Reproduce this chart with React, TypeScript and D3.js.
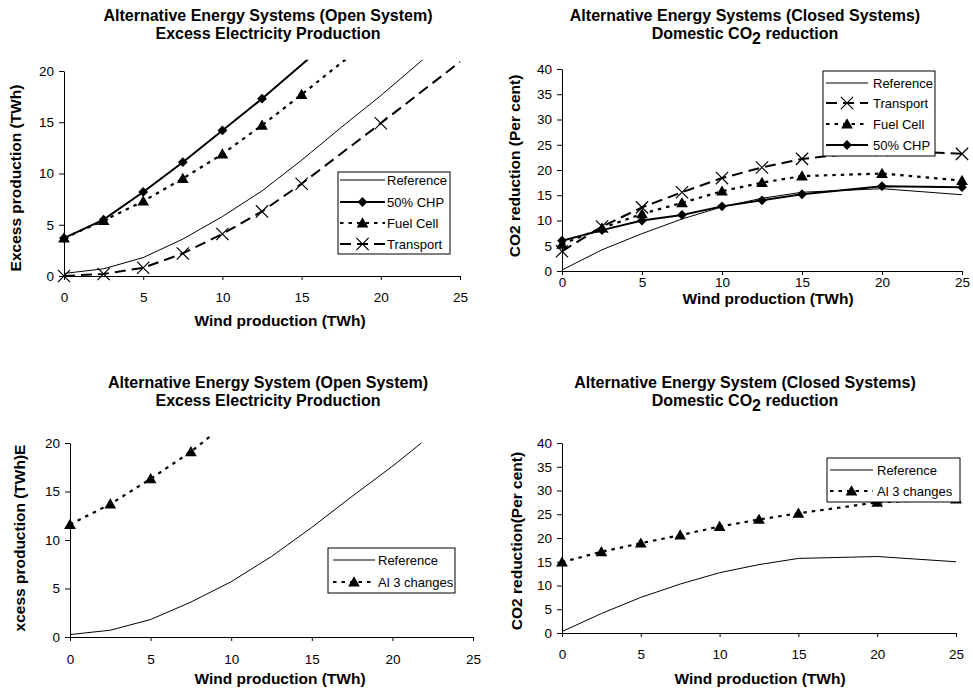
import React, { useRef, useEffect } from "react";
import * as d3 from "d3";

// ---- data ----
const openRefX = [0, 2.5, 5, 7.5, 10, 12.5, 15, 17.5, 20, 22.5, 25];
const openRefY = [0.25, 0.7, 1.8, 3.6, 5.8, 8.3, 11.3, 14.5, 17.6, 20.9, 24.2];
const openChpX = [0, 2.5, 5, 7.5, 10, 12.5, 15, 17.5];
const openChpY = [3.7, 5.5, 8.2, 11.1, 14.2, 17.3, 20.6, 24.0];
const openFuelX = [0, 2.5, 5, 7.5, 10, 12.5, 15, 17.5, 20];
const openFuelY = [3.7, 5.4, 7.3, 9.5, 11.9, 14.7, 17.7, 20.8, 23.8];
const openTransX = [0, 2.5, 5, 7.5, 10, 12.5, 15, 20, 25];
const openTransY = [0, 0.2, 0.8, 2.2, 4.1, 6.3, 9.0, 14.9, 20.9];

const closedX = [0, 2.5, 5, 7.5, 10, 12.5, 15, 20, 25];
const closedRefY = [0.2, 4.2, 7.4, 10.3, 12.7, 14.4, 15.6, 16.3, 15.1];
const closedTransY = [3.9, 8.8, 12.6, 15.6, 18.4, 20.5, 22.2, 23.9, 23.2];
const closedFuelY = [5.3, 8.5, 11.3, 13.5, 15.8, 17.5, 18.8, 19.3, 17.9];
const closedChpY = [6.0, 8.1, 10.0, 11.1, 12.8, 14.0, 15.2, 16.8, 16.6];

const al3RefX = [0, 2.5, 5, 7.5, 10, 12.5, 15, 17.5, 20, 21.8];
const al3RefY = [0.25, 0.7, 1.8, 3.6, 5.7, 8.3, 11.3, 14.5, 17.6, 20.0];
const al3OpenX = [0, 2.5, 5, 7.5, 10];
const al3OpenY = [11.6, 13.7, 16.3, 19.1, 22.4];
const al3ClosedRefY = [0.3, 4.1, 7.5, 10.3, 12.7, 14.4, 15.7, 16.1, 15.0];
const al3ClosedY = [14.9, 17.1, 18.9, 20.6, 22.4, 23.9, 25.2, 27.5, 28.2];

const xTicks = [0, 5, 10, 15, 20, 25];

const FONT = "'Liberation Sans', Arial, sans-serif";

type Style = { width: number; dash: string | null; marker: string | null };
const STYLES: Record<string, Style> = {
  "Reference": { width: 1, dash: null, marker: null },
  "50% CHP": { width: 2, dash: null, marker: "diamond" },
  "Fuel Cell": { width: 2.2, dash: "3.5,5", marker: "triangle" },
  "Transport": { width: 2, dash: "11,6", marker: "cross" },
  "Al 3 changes": { width: 2.2, dash: "3.5,5", marker: "triangle" },
};

const zip = (xs: number[], ys: number[]) => xs.map((x, i) => ({ x, y: ys[i] }));

const panels = [
  {
    title: ["Alternative Energy Systems (Open System)", "Excess Electricity Production"],
    sub: false, titleX: 268, titleY: [21, 39],
    px: [64, 460], py: [276, 71], yMax: 20, yStep: 5, clipTop: 21.1, xPad: 12,
    yLabel: "Excess production (TWh)", yLabelPos: [16, 178], xLabelPos: [280, 326],
    legend: { x: 338, y: 172, w: 112, h: 82, rows: [180, 202, 223, 244], line: [340, 385], text: 387 },
    series: [
      { name: "Reference", data: zip(openRefX, openRefY) },
      { name: "50% CHP", data: zip(openChpX, openChpY) },
      { name: "Fuel Cell", data: zip(openFuelX, openFuelY) },
      { name: "Transport", data: zip(openTransX, openTransY) },
    ],
  },
  {
    title: ["Alternative Energy Systems (Closed Systems)", "Domestic CO"],
    sub: true, titleX: 745, titleY: [21, 39],
    px: [562, 962], py: [271, 69], yMax: 40, yStep: 5, clipTop: 40, xPad: 2,
    yLabel: "CO2 reduction (Per cent)", yLabelPos: [515, 166], xLabelPos: [768, 304],
    legend: { x: 823, y: 71, w: 112, h: 85, rows: [83, 103, 124, 145], line: [826, 868], text: 873 },
    series: [
      { name: "Reference", data: zip(closedX, closedRefY) },
      { name: "Transport", data: zip(closedX, closedTransY) },
      { name: "Fuel Cell", data: zip(closedX, closedFuelY) },
      { name: "50% CHP", data: zip(closedX, closedChpY) },
    ],
  },
  {
    title: ["Alternative Energy System (Open System)", "Excess Electricity Production"],
    sub: false, titleX: 268, titleY: [388, 406],
    px: [70, 473], py: [637, 443], yMax: 20, yStep: 5, clipTop: 20.7, xPad: 13,
    yLabel: "xcess production (TWh)E", yLabelPos: [20, 538], xLabelPos: [280, 684],
    legend: { x: 328, y: 548, w: 127, h: 45, rows: [560, 582], line: [333, 375], text: 378 },
    series: [
      { name: "Reference", data: zip(al3RefX, al3RefY) },
      { name: "Al 3 changes", data: zip(al3OpenX, al3OpenY) },
    ],
  },
  {
    title: ["Alternative Energy System (Closed Systems)", "Domestic CO"],
    sub: true, titleX: 745, titleY: [388, 406],
    px: [562, 956], py: [633, 443], yMax: 40, yStep: 5, clipTop: 40, xPad: 12,
    yLabel: "CO2 reduction(Per cent)", yLabelPos: [517, 541], xLabelPos: [760, 684],
    legend: { x: 827, y: 458, w: 133, h: 44, rows: [470, 491], line: [830, 873], text: 877 },
    series: [
      { name: "Reference", data: zip(closedX, al3ClosedRefY) },
      { name: "Al 3 changes", data: zip(closedX, al3ClosedY) },
    ],
  },
];

const markerPath = (kind: string) => {
  if (kind === "diamond") return d3.symbol(d3.symbolSquare, 48)();
  if (kind === "triangle") return d3.symbol(d3.symbolTriangle, 60)();
  const times = (d3 as any).symbolTimes || (d3 as any).symbolX;
  return times ? d3.symbol(times, 100)() : "M-6,-6L6,6M-6,6L6,-6";
};

const drawMarker = (g: any, kind: string, x: number, y: number) => {
  const p = g.append("path").attr("d", markerPath(kind));
  if (kind === "diamond") {
    p.attr("transform", `translate(${x},${y}) rotate(45)`).attr("fill", "#000");
  } else if (kind === "triangle") {
    p.attr("transform", `translate(${x},${y + 1})`).attr("fill", "#000");
  } else {
    p.attr("transform", `translate(${x},${y})`).attr("fill", "none").attr("stroke", "#000").attr("stroke-width", 1.2);
  }
};

const App = () => {
  const svgRef = useRef<SVGSVGElement>(null);

  useEffect(() => {
    const svg = d3.select(svgRef.current);
    svg.selectAll("*").remove();

    panels.forEach((p, pi) => {
      const x = d3.scaleLinear().domain([0, 25]).range(p.px);
      const y = d3.scaleLinear().domain([0, p.yMax]).range(p.py);
      const g = svg.append("g");

      // two-line title, second line may carry a subscript
      const titleText = (ty: number) => g.append("text")
        .attr("x", p.titleX).attr("y", ty).attr("text-anchor", "middle")
        .style("font-family", FONT).style("font-weight", "bold").style("font-size", "16px");
      titleText(p.titleY[0]).text(p.title[0]);
      const line2 = titleText(p.titleY[1]);
      if (p.sub) {
        line2.append("tspan").text("Domestic CO");
        line2.append("tspan").attr("dy", 5).text("2");
        line2.append("tspan").attr("dy", -5).text(" reduction");
      } else {
        line2.text(p.title[1]);
      }

      // clip for lines
      const clipId = `clip-${pi}`;
      svg.append("clipPath").attr("id", clipId)
        .append("rect")
        .attr("x", x(0) - 2).attr("y", y(p.clipTop))
        .attr("width", x(25) - x(0) + 6)
        .attr("height", y(0) - y(p.clipTop) + 8);

      const line = d3.line<{ x: number; y: number }>().x(d => x(d.x)).y(d => y(d.y));

      p.series.forEach(s => {
        const st = STYLES[s.name];
        g.append("path")
          .attr("clip-path", `url(#${clipId})`)
          .attr("d", line(s.data))
          .attr("fill", "none").attr("stroke", "#000")
          .attr("stroke-width", st.width)
          .attr("stroke-dasharray", st.dash);
        if (st.marker) {
          s.data.filter(d => d.y <= p.yMax).forEach(d => drawMarker(g, st.marker as string, x(d.x), y(d.y)));
        }
      });

      // axes
      const yTicks = d3.range(0, p.yMax + 0.1, p.yStep);
      const yAxis = g.append("g").attr("transform", `translate(${p.px[0]},0)`)
        .call(d3.axisLeft(y).tickValues(yTicks).tickSize(5).tickSizeOuter(0).tickPadding(5));
      const xAxis = g.append("g").attr("transform", `translate(0,${p.py[0]})`)
        .call(d3.axisBottom(x).tickValues(xTicks).tickSize(4).tickSizeOuter(0).tickPadding(p.xPad));
      [yAxis, xAxis].forEach(a => {
        a.select(".domain").attr("stroke", "#000").attr("stroke-width", 1);
        a.selectAll("line").attr("stroke", "#000");
        a.selectAll("text").style("font-family", FONT).style("font-size", "13.5px").attr("fill", "#000");
      });

      // axis titles
      g.append("text")
        .attr("transform", `translate(${p.yLabelPos[0]},${p.yLabelPos[1]}) rotate(-90)`)
        .attr("text-anchor", "middle").attr("dy", "0.35em")
        .style("font-family", FONT).style("font-weight", "bold").style("font-size", "15.5px")
        .text(p.yLabel);
      g.append("text")
        .attr("x", p.xLabelPos[0]).attr("y", p.xLabelPos[1]).attr("text-anchor", "middle")
        .style("font-family", FONT).style("font-weight", "bold").style("font-size", "15.5px")
        .text("Wind production (TWh)");

      // legend
      const L = p.legend;
      const lg = g.append("g");
      lg.append("rect").attr("x", L.x).attr("y", L.y).attr("width", L.w).attr("height", L.h)
        .attr("fill", "#fff").attr("stroke", "#000").attr("stroke-width", 1);
      p.series.forEach((s, i) => {
        const st = STYLES[s.name];
        const ry = L.rows[i];
        const mid = (L.line[0] + L.line[1]) / 2;
        lg.append("line").attr("x1", L.line[0]).attr("x2", L.line[1]).attr("y1", ry).attr("y2", ry)
          .attr("stroke", "#000").attr("stroke-width", st.width)
          .attr("stroke-dasharray", st.name === "Transport" ? "15,12" : st.dash);
        if (st.marker) drawMarker(lg, st.marker, mid, ry);
        lg.append("text").attr("x", L.text).attr("y", ry).attr("dy", "0.35em")
          .style("font-family", FONT).style("font-size", "13px").text(s.name);
      });
    });
  }, []);

  return (
    <div style={{ position: "absolute", left: 0, top: 0, width: 973, height: 693, background: "#fff" }}>
      <svg ref={svgRef} width={973} height={693} style={{ display: "block" }} />
    </div>
  );
};

export default App;
